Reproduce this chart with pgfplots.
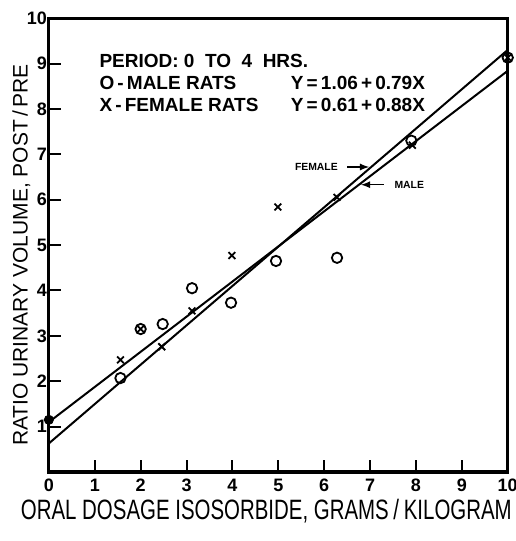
\documentclass[border=0pt]{standalone}
\usepackage{fontspec}
\setmainfont{Liberation Sans}
\newfontfamily\labelfont[FakeStretch=0.73]{Liberation Sans}
\usepackage{pgfplots}
\pgfplotsset{compat=1.18}
\begin{document}
\begin{tikzpicture}
\begin{axis}[
  scale only axis, width=229.5pt, height=227pt,
  xmin=0, xmax=10, ymin=0, ymax=10,
  axis line style={line width=1.6pt},
  xtick={0,...,10}, ytick={1,...,10},
  xtick pos=bottom, ytick pos=left, tick align=inside,
  major tick length=6pt, tick style={line width=1pt, black},
  /pgf/number format/assume math mode=true,
  tick label style={font=\fontsize{9}{9}\selectfont\bfseries},
  xticklabel style={yshift=0pt},
  yticklabel style={xshift=2.5pt},
  xlabel={ORAL DOSAGE ISOSORBIDE, GRAMS\,/\,KILOGRAM},
  ylabel={RATIO URINARY VOLUME, POST\,/\,PRE},
  xlabel style={font=\labelfont\fontsize{14}{14}\selectfont, yshift=3pt, xshift=-6pt},
  ylabel style={font=\fontsize{10.5}{11}\selectfont, at={(axis cs:-0.6,4.78)}, anchor=center},
  clip=false,
]
  % fitted lines as drawn
  \addplot[black, line width=1pt] coordinates {(0,1.10)(10,8.84)}; % male
  \addplot[black, line width=1pt] coordinates {(0,0.63)(10,9.30)}; % female

  % male rats (circles)
  \addplot[only marks, mark=o, mark size=2.6pt, mark options={line width=0.9pt}]
    coordinates {
      (1.56,2.07)(2.00,3.15)(2.48,3.26)(3.12,4.05)(3.97,3.73)
      (4.95,4.65)(6.28,4.72)(7.90,7.30)(10.0,9.13)
    };
  % female rats (crosses)
  \addplot[only marks, mark=x, mark size=2.4pt, mark options={line width=0.9pt}]
    coordinates {
      (1.56,2.47)(2.00,3.15)(2.46,2.76)(3.12,3.55)(3.99,4.77)
      (4.99,5.84)(6.28,6.05)(7.92,7.20)(10.0,9.13)
    };
  % coincident point at zero dose
  \addplot[only marks, mark=*, mark size=2.3pt] coordinates {(0,1.15)};

  \node[font=\fontsize{9.5}{10}\selectfont\bfseries, anchor=west] at (axis cs:0.95,9.06) {PERIOD:\ 0\ \ TO\ \ 4\ \ HRS.};
  \node[font=\fontsize{9.5}{10}\selectfont\bfseries, anchor=west] at (axis cs:0.95,8.58) {O\,-\,MALE RATS};
  \node[font=\fontsize{9.5}{10}\selectfont\bfseries, anchor=west] at (axis cs:0.95,8.09) {X\,-\,FEMALE RATS};
  \node[font=\fontsize{9.5}{10}\selectfont\bfseries, anchor=west] at (axis cs:5.12,8.58) {Y\,=\,1.06\,+\,0.79X};
  \node[font=\fontsize{9.5}{10}\selectfont\bfseries, anchor=west] at (axis cs:5.12,8.09) {Y\,=\,0.61\,+\,0.88X};

  \node[font=\fontsize{5.2}{6}\selectfont\bfseries, anchor=east] at (axis cs:6.45,6.72) {FEMALE};
  \draw[-latex, line width=0.6pt] (axis cs:6.5,6.72) -- (axis cs:6.98,6.72);
  \node[font=\fontsize{5.2}{6}\selectfont\bfseries, anchor=west] at (axis cs:7.38,6.33) {MALE};
  \draw[-latex, line width=0.6pt] (axis cs:7.3,6.33) -- (axis cs:6.8,6.33);

  \coordinate (bbsw) at (axis cs:-1.065,-1.52);
  \coordinate (bbne) at (axis cs:10.18,10.40);
\end{axis}
\pgfresetboundingbox
\path (bbsw) rectangle (bbne);
\end{tikzpicture}
\end{document}
